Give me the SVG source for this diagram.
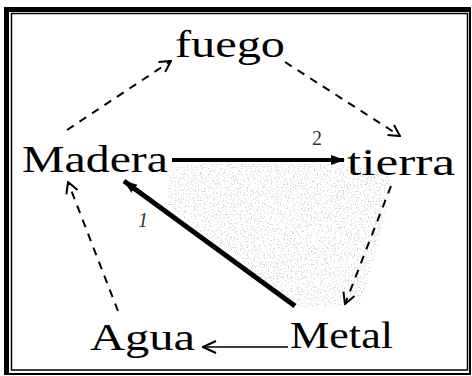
<svg xmlns="http://www.w3.org/2000/svg" width="472" height="376" viewBox="0 0 472 376">
<style>
.lbl{font-family:"Liberation Serif","DejaVu Serif",serif;font-size:38px;fill:#000}
.num{font-family:"Liberation Serif","DejaVu Serif",serif;font-size:20px;fill:#333}
.dash{fill:none;stroke:#000;stroke-width:2;stroke-dasharray:8 7}
.thick{fill:none;stroke:#000}
</style>
<defs>
<marker id="open" markerUnits="userSpaceOnUse" viewBox="0 0 14 14" refX="13" refY="7" markerWidth="14" markerHeight="14" orient="auto">
<path d="M2,1 L13,7 L2,13" fill="none" stroke="#000" stroke-width="2"/>
</marker>
<marker id="solid" markerUnits="userSpaceOnUse" viewBox="0 0 14 12" refX="13" refY="6" markerWidth="14" markerHeight="12" orient="auto">
<path d="M0,1 L14,6 L0,11 Z" fill="#000"/>
</marker>
<marker id="thin" markerUnits="userSpaceOnUse" viewBox="0 0 16 14" refX="15" refY="7" markerWidth="16" markerHeight="14" orient="auto">
<path d="M2,1 L15,7 L2,13" fill="none" stroke="#000" stroke-width="2"/>
</marker>
<filter id="stip" filterUnits="userSpaceOnUse" x="150" y="150" width="260" height="170">
<feTurbulence type="fractalNoise" baseFrequency="0.7" numOctaves="2" seed="4" result="n"/>
<feColorMatrix in="n" type="matrix" values="0 0 0 0 0.72 0 0 0 0 0.72 0 0 0 0 0.72 16 0 0 0 -9.2" result="d"/>
<feComposite in="d" in2="SourceGraphic" operator="in"/>
</filter>
</defs>
<rect width="472" height="376" fill="#fff"/>
<g id="frame">
<rect x="5" y="8" width="465" height="366" fill="none" stroke="#000" stroke-width="2"/>
<rect x="4" y="7" width="467" height="5" fill="#000"/>
<rect x="4" y="7" width="5" height="368" fill="#000"/>
<rect x="11.5" y="13.5" width="456" height="356.5" fill="none" stroke="#000" stroke-width="1.5"/>
</g>
<polygon id="shade" points="168,168 200,164 340,164 388,172 392,188 362,305 300,308 200,232 168,205" fill="#000" filter="url(#stip)"/>
<g id="connectors">
<line class="dash" x1="67" y1="130" x2="171" y2="61" marker-end="url(#open)"/>
<line class="dash" x1="285" y1="62" x2="400" y2="136" marker-end="url(#open)"/>
<line class="dash" x1="391" y1="186" x2="345" y2="304" marker-end="url(#open)"/>
<line class="dash" x1="118" y1="311" x2="68" y2="182" marker-end="url(#open)"/>
<line class="thick" stroke-width="4" x1="172" y1="160" x2="344" y2="160" marker-end="url(#solid)"/>
<line class="thick" stroke-width="5" x1="295" y1="306" x2="124" y2="181" marker-end="url(#solid)"/>
<line class="thick" stroke-width="1.6" x1="288" y1="347" x2="203" y2="347" marker-end="url(#thin)"/>
</g>
<g id="labels">
<text class="num" x="317" y="145" text-anchor="middle">2</text>
<text class="num" x="143" y="227" text-anchor="middle" font-style="italic">1</text>
</g>
<g id="fuego"><text class="lbl" x="175" y="57" textLength="110" lengthAdjust="spacingAndGlyphs">fuego</text></g>
<g id="madera"><text class="lbl" x="22" y="172" textLength="146" lengthAdjust="spacingAndGlyphs">Madera</text></g>
<g id="tierra"><text class="lbl" x="347" y="175" textLength="108" lengthAdjust="spacingAndGlyphs">tierra</text></g>
<g id="agua"><text class="lbl" x="90" y="350" textLength="105" lengthAdjust="spacingAndGlyphs">Agua</text></g>
<g id="metal"><text class="lbl" x="290" y="348" textLength="103" lengthAdjust="spacingAndGlyphs">Metal</text></g>
</svg>
